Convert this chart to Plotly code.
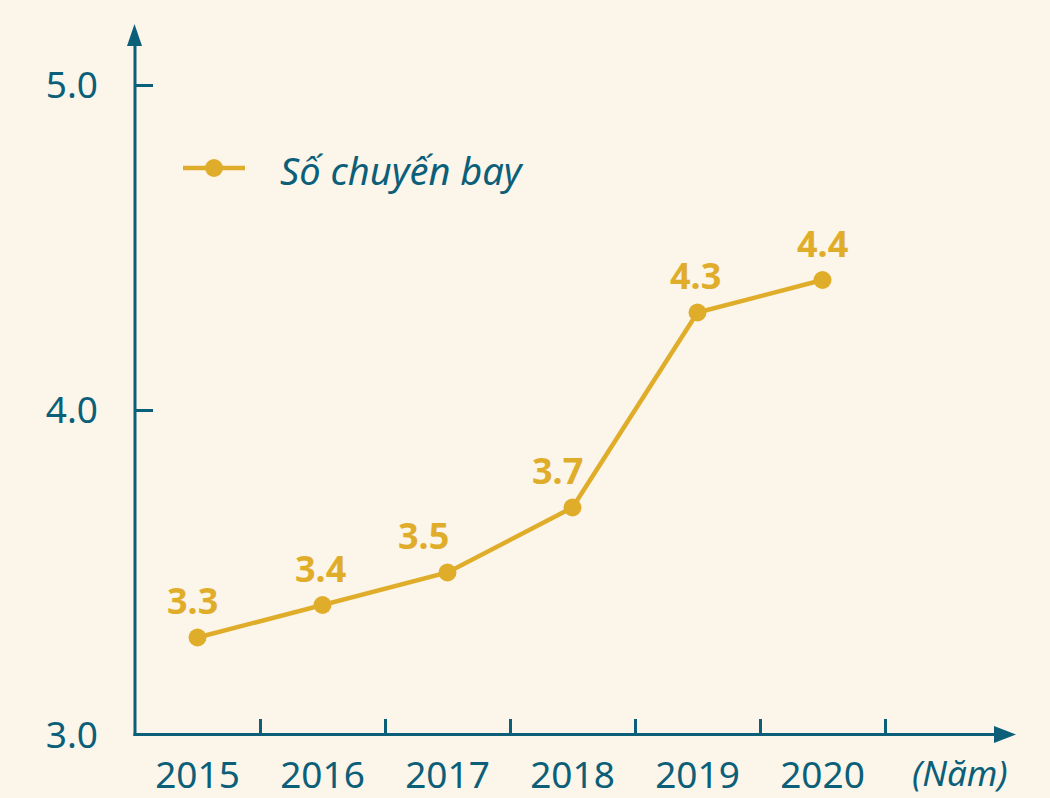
import plotly.graph_objects as go

years = ["2015", "2016", "2017", "2018", "2019", "2020"]
flights = [3.3, 3.4, 3.5, 3.7, 4.3, 4.4]
value_labels = ["3.3", "3.4", "3.5", "3.7", "4.3", "4.4"]
y_ticks = [3.0, 4.0, 5.0]
y_tick_text = ["3.0", "4.0", "5.0"]
series_name = "Số chuyến bay"
x_unit = "(Năm)"

TEAL = "#0B5F78"
GOLD = "#E0AD2B"
BG = "#FCF5EA"
FONT = "Noto Sans"

# plot area geometry (px)
W, H = 1050, 798
L, R, T, B = 135, 50, 40, 63
pw, ph = W - L - R, H - T - B

def px(xpix):
    return (xpix - L) / pw

def py(ypix):
    return (H - B - ypix) / ph

fig = go.Figure()
fig.add_trace(go.Scatter(
    x=years, y=flights, mode="lines+markers", name=series_name,
    line=dict(color=GOLD, width=4.5),
    marker=dict(color=GOLD, size=18),
    showlegend=False, cliponaxis=False,
))

label_xshift = [-5, -2, -24, -15, -2, 0]
for i, (v, t, dx) in enumerate(zip(flights, value_labels, label_xshift)):
    fig.add_annotation(x=i, y=v, text=t, showarrow=False, xshift=dx, yshift=37,
                       yanchor="middle", xanchor="center",
                       font=dict(family=FONT, size=36, color=GOLD, weight="bold"))

# manual legend
lx0, lx1, ly = 183, 245, 168
fig.add_shape(type="line", xref="paper", yref="paper", x0=px(lx0), x1=px(lx1),
              y0=py(ly), y1=py(ly), line=dict(color=GOLD, width=4.5))
fig.add_shape(type="circle", xref="paper", yref="paper", xsizemode="pixel", ysizemode="pixel",
              xanchor=px(214), yanchor=py(ly), x0=-9, x1=9, y0=-9, y1=9,
              fillcolor=GOLD, line=dict(color=GOLD, width=0))
fig.add_annotation(xref="paper", yref="paper", x=px(278), y=py(170), text=series_name,
                   showarrow=False, xanchor="left", yanchor="middle",
                   font=dict(family=FONT, size=38, color=TEAL, style="italic"))

# unit label
fig.add_annotation(xref="paper", yref="paper", x=px(960), y=py(797), text=x_unit,
                   showarrow=False, xanchor="center", yanchor="bottom", borderpad=0,
                   font=dict(family=FONT, size=35, color=TEAL, style="italic"))

# arrow heads and axis lines
def tri(p1, p2, p3):
    return "M {} {} L {} {} L {} {} Z".format(px(p1[0]), py(p1[1]), px(p2[0]), py(p2[1]),
                                              px(p3[0]), py(p3[1]))

fig.add_shape(type="path", xref="paper", yref="paper",
              path=tri((134.5, 24), (127, 46), (142, 46)),
              fillcolor=TEAL, line=dict(color=TEAL, width=0))
fig.add_shape(type="path", xref="paper", yref="paper",
              path=tri((1016, 734.5), (994, 726), (994, 743)),
              fillcolor=TEAL, line=dict(color=TEAL, width=0))
fig.add_shape(type="line", xref="paper", yref="paper", x0=px(135), x1=px(135),
              y0=py(736), y1=py(46), line=dict(color=TEAL, width=3))
fig.add_shape(type="line", xref="paper", yref="paper", x0=px(133.5), x1=px(995),
              y0=py(734.5), y1=py(734.5), line=dict(color=TEAL, width=3))

fig.update_layout(
    width=W, height=H,
    margin=dict(l=L, r=R, t=T, b=B, pad=0, autoexpand=False),
    paper_bgcolor=BG, plot_bgcolor=BG,
    font=dict(family=FONT, color=TEAL, size=37),
    xaxis=dict(type="category", range=[-0.5, -0.5 + pw / 125], tickson="boundaries",
               ticks="inside", ticklen=16, tickwidth=3, tickcolor=TEAL,
               showgrid=False, zeroline=False, showline=False, automargin=False,
               tickfont=dict(family=FONT, size=37, color=TEAL), ticklabelstandoff=15),
    yaxis=dict(range=[3.0, 3.0 + ph / 325], tickvals=y_ticks, ticktext=y_tick_text,
               ticks="inside", ticklen=18, tickwidth=3, tickcolor=TEAL,
               showgrid=False, zeroline=False, showline=False, automargin=False,
               tickfont=dict(family=FONT, size=37, color=TEAL), ticklabelstandoff=36),
)

fig.write_html("out.html", config={"displayModeBar": False},
               post_script="document.body.style.margin='0';document.body.style.overflow='hidden';")
